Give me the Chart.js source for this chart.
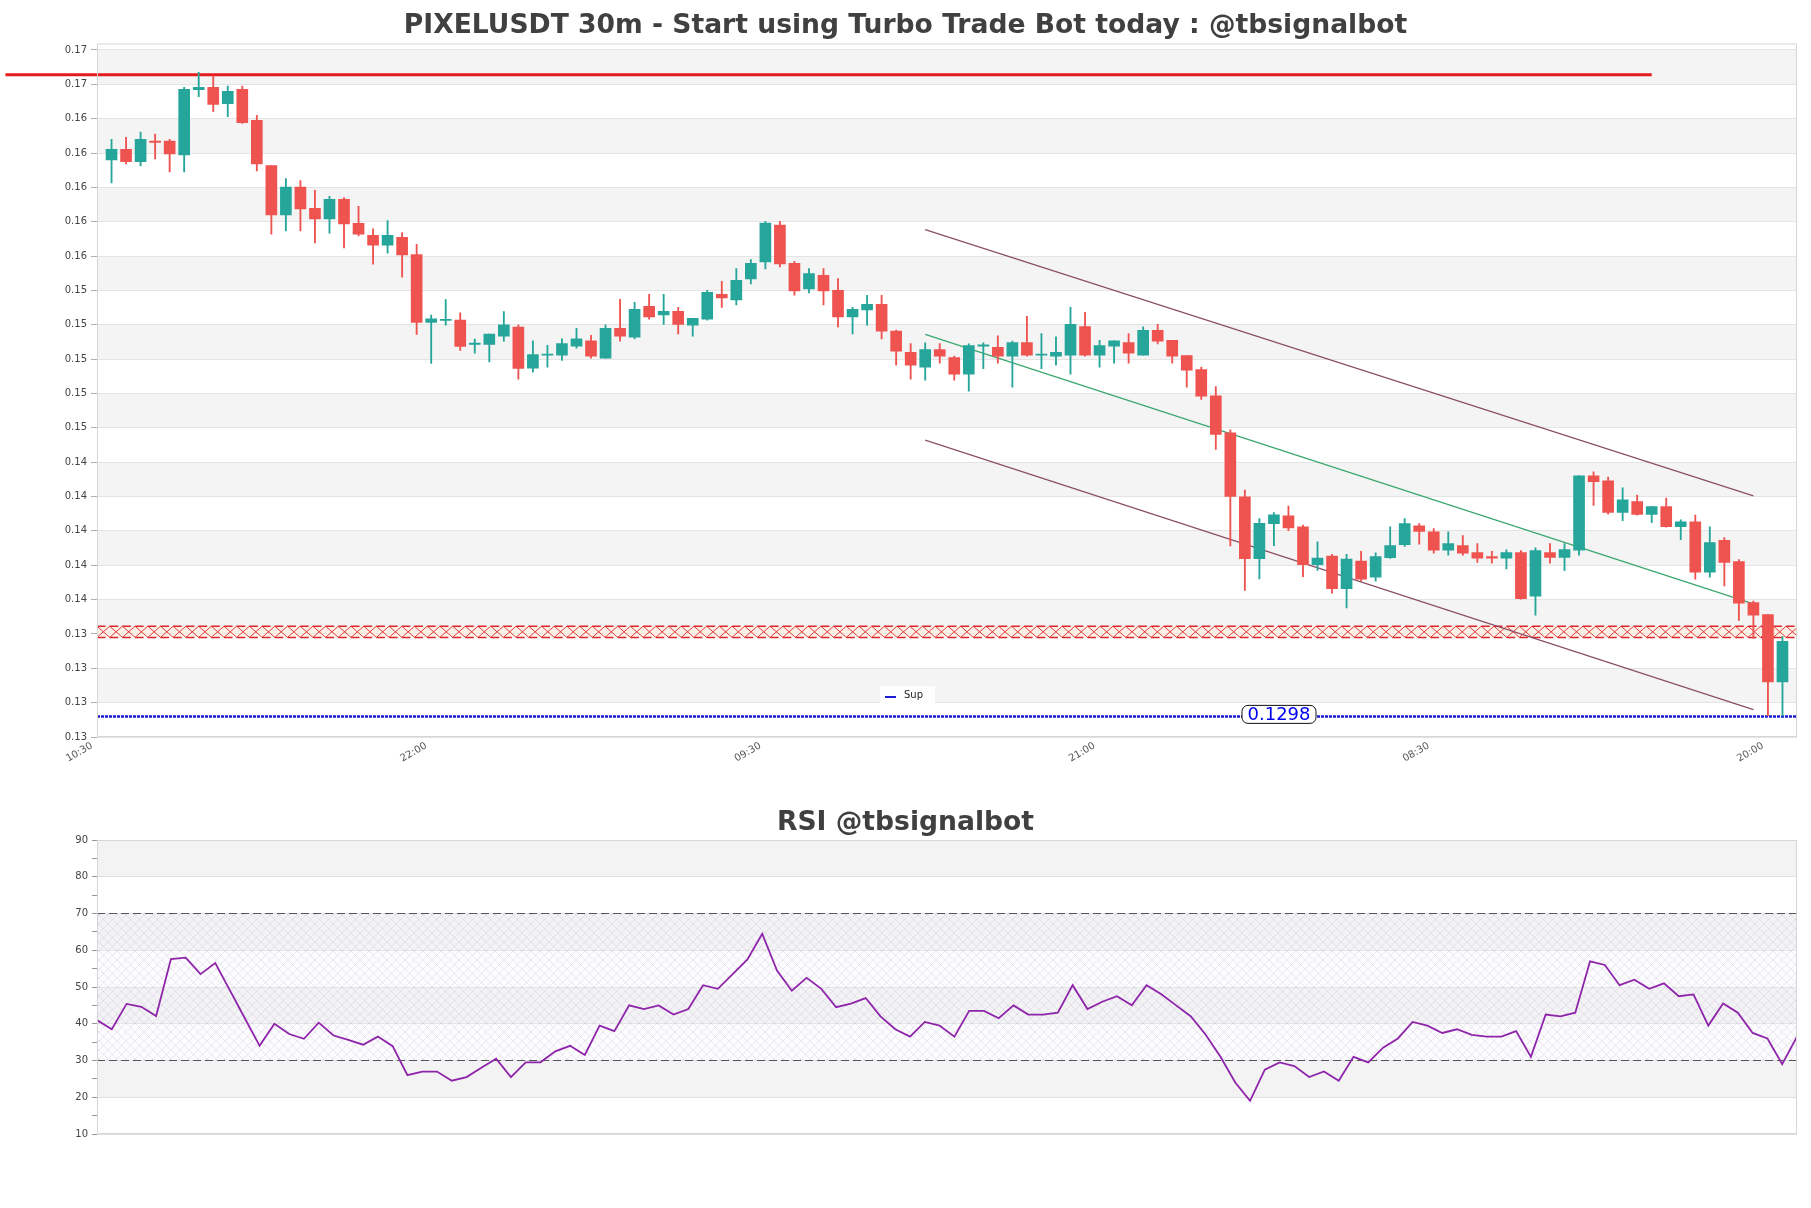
<!DOCTYPE html>
<html>
<head>
<meta charset="utf-8">
<title>PIXELUSDT 30m</title>
<script src="https://cdn.jsdelivr.net/npm/chart.js@4.4.1/dist/chart.umd.min.js"></script>
<style>
  html, body { margin: 0; padding: 0; background: #fff; }
  #wrap { position: relative; width: 1811px; height: 1208px; }
  canvas { position: absolute; left: 0; }
</style>
</head>
<body>
<div id="wrap">
  <canvas id="priceChart" width="1811" height="780" style="top:0"></canvas>
  <canvas id="rsiChart" width="1811" height="428" style="top:780px"></canvas>
</div>
<script>
// velas de 30m (indice 0 = 11:00)
let opens = [
  0.16220, 0.16281, 0.16209, 0.16329, 0.16329, 0.16249, 0.16629, 0.16643, 0.16547, 0.16631,
  0.16450, 0.16187, 0.15899, 0.16061, 0.15938, 0.15876, 0.15991, 0.15851, 0.15780, 0.15724,
  0.15769, 0.15669, 0.15274, 0.15286, 0.15288, 0.15146, 0.15146, 0.15193, 0.15247, 0.15007,
  0.15083, 0.15083, 0.15136, 0.15167, 0.15066, 0.15239, 0.15188, 0.15367, 0.15317, 0.15338,
  0.15258, 0.15293, 0.15437, 0.15404, 0.15527, 0.15626, 0.15840, 0.15618, 0.15468, 0.15548,
  0.15461, 0.15305, 0.15346, 0.15379, 0.15223, 0.15099, 0.15013, 0.15116, 0.15069, 0.14972,
  0.15135, 0.15128, 0.15077, 0.15157, 0.15083, 0.15077, 0.15083, 0.15250, 0.15083, 0.15135,
  0.15157, 0.15083, 0.15227, 0.15169, 0.15081, 0.14999, 0.14847, 0.14631, 0.14258, 0.13898,
  0.14102, 0.14147, 0.14083, 0.13863, 0.13913, 0.13723, 0.13884, 0.13790, 0.13904, 0.13980,
  0.14090, 0.14055, 0.13947, 0.13974, 0.13933, 0.13910, 0.13901, 0.13933, 0.13680, 0.13933,
  0.13906, 0.13947, 0.14381, 0.14352, 0.14168, 0.14230, 0.14156, 0.14201, 0.14084, 0.14113,
  0.13819, 0.14005, 0.13881, 0.13643, 0.13573, 0.13180
];
let highs = [
  0.16339, 0.16351, 0.16382, 0.16370, 0.16339, 0.16643, 0.16730, 0.16711, 0.16650, 0.16650,
  0.16479, 0.16187, 0.16111, 0.16100, 0.16043, 0.16008, 0.16000, 0.15950, 0.15819, 0.15866,
  0.15796, 0.15728, 0.15317, 0.15407, 0.15329, 0.15177, 0.15206, 0.15337, 0.15259, 0.15167,
  0.15140, 0.15178, 0.15239, 0.15198, 0.15260, 0.15408, 0.15391, 0.15437, 0.15437, 0.15361,
  0.15297, 0.15461, 0.15513, 0.15587, 0.15640, 0.15862, 0.15862, 0.15630, 0.15587, 0.15587,
  0.15529, 0.15361, 0.15431, 0.15431, 0.15229, 0.15151, 0.15155, 0.15151, 0.15077, 0.15149,
  0.15155, 0.15196, 0.15165, 0.15309, 0.15209, 0.15190, 0.15361, 0.15332, 0.15169, 0.15167,
  0.15209, 0.15248, 0.15262, 0.15169, 0.15081, 0.15013, 0.14900, 0.14649, 0.14297, 0.14131,
  0.14166, 0.14205, 0.14094, 0.13997, 0.13923, 0.13923, 0.13941, 0.13932, 0.14084, 0.14131,
  0.14102, 0.14073, 0.14055, 0.14032, 0.13986, 0.13941, 0.13949, 0.13945, 0.13961, 0.13986,
  0.13986, 0.14381, 0.14404, 0.14373, 0.14311, 0.14268, 0.14201, 0.14251, 0.14125, 0.14152,
  0.14084, 0.14021, 0.13893, 0.13651, 0.13573, 0.13444
];
let lows = [
  0.16086, 0.16197, 0.16185, 0.16226, 0.16150, 0.16150, 0.16588, 0.16500, 0.16471, 0.16432,
  0.16156, 0.15788, 0.15806, 0.15806, 0.15736, 0.15794, 0.15707, 0.15777, 0.15613, 0.15677,
  0.15537, 0.15204, 0.15035, 0.15257, 0.15111, 0.15094, 0.15043, 0.15164, 0.14944, 0.14984,
  0.15013, 0.15052, 0.15124, 0.15066, 0.15066, 0.15165, 0.15177, 0.15293, 0.15262, 0.15206,
  0.15194, 0.15287, 0.15361, 0.15375, 0.15498, 0.15585, 0.15597, 0.15433, 0.15445, 0.15375,
  0.15247, 0.15206, 0.15258, 0.15177, 0.15025, 0.14943, 0.14937, 0.15036, 0.14937, 0.14873,
  0.15005, 0.15036, 0.14896, 0.15077, 0.15005, 0.15025, 0.14972, 0.15077, 0.15013, 0.15036,
  0.15036, 0.15083, 0.15149, 0.15036, 0.14896, 0.14826, 0.14534, 0.13972, 0.13713, 0.13781,
  0.13974, 0.14061, 0.13793, 0.13830, 0.13697, 0.13612, 0.13769, 0.13767, 0.13899, 0.13970,
  0.13982, 0.13930, 0.13918, 0.13918, 0.13877, 0.13872, 0.13839, 0.13662, 0.13569, 0.13872,
  0.13829, 0.13918, 0.14208, 0.14158, 0.14119, 0.14152, 0.14108, 0.14081, 0.14009, 0.13779,
  0.13790, 0.13740, 0.13538, 0.13434, 0.12983, 0.12983
];
let closes = [
  0.16281, 0.16209, 0.16339, 0.16321, 0.16255, 0.16631, 0.16643, 0.16543, 0.16619, 0.16436,
  0.16197, 0.15899, 0.16061, 0.15934, 0.15876, 0.15991, 0.15847, 0.15788, 0.15724, 0.15780,
  0.15666, 0.15274, 0.15294, 0.15292, 0.15134, 0.15154, 0.15206, 0.15259, 0.15006, 0.15087,
  0.15089, 0.15151, 0.15178, 0.15077, 0.15239, 0.15194, 0.15350, 0.15305, 0.15338, 0.15262,
  0.15297, 0.15449, 0.15416, 0.15519, 0.15618, 0.15852, 0.15614, 0.15457, 0.15558, 0.15457,
  0.15305, 0.15350, 0.15379, 0.15223, 0.15107, 0.15025, 0.15116, 0.15077, 0.14972, 0.15139,
  0.15143, 0.15077, 0.15157, 0.15083, 0.15089, 0.15099, 0.15262, 0.15083, 0.15139, 0.15167,
  0.15095, 0.15227, 0.15165, 0.15077, 0.14995, 0.14844, 0.14622, 0.14260, 0.13898, 0.14104,
  0.14153, 0.14077, 0.13863, 0.13902, 0.13723, 0.13896, 0.13779, 0.13910, 0.13974, 0.14102,
  0.14057, 0.13947, 0.13986, 0.13930, 0.13901, 0.13901, 0.13933, 0.13666, 0.13945, 0.13906,
  0.13951, 0.14381, 0.14346, 0.14168, 0.14241, 0.14156, 0.14201, 0.14084, 0.14113, 0.13819,
  0.13992, 0.13877, 0.13639, 0.13569, 0.13180, 0.13417
];

// RSI (14) del panel de abajo
let rsiValues = [
  41.0, 38.5, 45.4, 44.6, 42.1, 57.6, 58.0, 53.5, 56.5, 49.0,
  41.5, 34.0, 40.0, 37.2, 35.9, 40.3, 36.8, 35.6, 34.3, 36.5,
  33.9, 26.0, 27.0, 27.0, 24.5, 25.5, 28.0, 30.5, 25.5, 29.5,
  29.5, 32.5, 34.0, 31.5, 39.5, 38.0, 45.0, 44.0, 45.0, 42.5,
  44.0, 50.5, 49.5, 53.5, 57.5, 64.5, 54.5, 49.0, 52.5, 49.5,
  44.5, 45.5, 47.0, 42.0, 38.5, 36.5, 40.5, 39.5, 36.5, 43.5,
  43.5, 41.5, 45.0, 42.5, 42.5, 43.0, 50.5, 44.0, 46.0, 47.5,
  45.0, 50.5, 48.0, 45.0, 42.0, 37.0, 31.0, 24.0, 19.0, 27.5,
  29.5, 28.5, 25.5, 27.0, 24.5, 31.0, 29.5, 33.5, 36.0, 40.5,
  39.5, 37.5, 38.5, 37.0, 36.5, 36.5, 38.0, 31.0, 42.5, 42.0,
  43.0, 57.0, 56.0, 50.5, 52.0, 49.5, 51.0, 47.5, 48.0, 39.5,
  45.5, 43.0, 37.5, 36.0, 29.0, 36.5
];

// eje de tiempo
let timeTickIdx = [-1, 22, 45, 68, 91, 114];
let timeLabels = ['10:30', '22:00', '09:30', '21:00', '08:30', '20:00'];

// niveles y canal
let resistanceLevel = 0.16715;
let supLevel = 0.1298;
let zoneLow = 0.13440;
let zoneHigh = 0.13505;
let channelIdx = [56, 113];
let channelUpper = [0.15814, 0.14264];
let channelMid = [0.15204, 0.13635];
let channelLower = [0.14588, 0.13019];
let rsiLevels = [70, 30];

// ticks del eje de precio (paso 0.002)
let priceTicks = [];
for (let k = 0; k <= 20; k++) priceTicks.push(+(0.1286 + k * 0.002).toFixed(4));
let rsiTicks = [90, 80, 70, 60, 50, 40, 30, 20, 10];

const UP = '#26a69a', DOWN = '#ef5350';
Chart.defaults.font.family = "'DejaVu Sans', sans-serif";
Chart.defaults.animation = false;

// eje vacio a la derecha, solo para dejar el margen y centrar el titulo
const spacerAxis = {
  position: 'right',
  display: true,
  grid: { display: false, drawTicks: false },
  border: { display: false },
  ticks: { display: false },
  afterFit: s => { s.width = 14; }
};

// bandas grises alternadas entre ticks + marco
const bandsPlugin = {
  id: 'bands',
  beforeDraw(chart, args, opts) {
    let { ctx, chartArea: a, scales: { y } } = chart;
    let vals = opts.values.slice().sort((p, q) => q - p);
    ctx.save();
    ctx.fillStyle = opts.color;
    for (let i = 0; i + 1 < vals.length; i += 2) {
      let y0 = y.getPixelForValue(vals[i]), y1 = y.getPixelForValue(vals[i + 1]);
      ctx.fillRect(a.left, y0, a.right - a.left, y1 - y0);
    }
    ctx.restore();
  },
  afterDraw(chart) {
    let { ctx, chartArea: a } = chart;
    ctx.save();
    ctx.strokeStyle = '#d6d6d6';
    ctx.lineWidth = 1;
    ctx.strokeRect(a.left + 0.5, a.top + 0.5, a.right - a.left - 1, a.bottom - a.top - 1);
    ctx.restore();
  }
};

// zona roja rayada
const zonePlugin = {
  id: 'zone',
  beforeDatasetsDraw(chart, args, opts) {
    let { ctx, chartArea: a, scales: { y } } = chart;
    let yt = y.getPixelForValue(opts.high), yb = y.getPixelForValue(opts.low);
    let w = 12.7;
    ctx.save();
    ctx.beginPath();
    ctx.rect(a.left, a.top, a.right - a.left, a.bottom - a.top);
    ctx.clip();
    ctx.fillStyle = 'rgba(255,235,215,0.5)';
    ctx.fillRect(a.left, yt, a.right - a.left, yb - yt);
    ctx.strokeStyle = opts.color;
    ctx.lineWidth = 0.9;
    ctx.beginPath();
    for (let x = a.left; x < a.right; x += w) {
      ctx.moveTo(x, yt); ctx.lineTo(x + w, yb);
      ctx.moveTo(x + w, yt); ctx.lineTo(x, yb);
    }
    ctx.stroke();
    ctx.lineWidth = 1.5;
    ctx.setLineDash([8.5, 4.2]);
    ctx.beginPath();
    ctx.moveTo(a.left, yt); ctx.lineTo(a.right, yt);
    ctx.moveTo(a.left, yb); ctx.lineTo(a.right, yb);
    ctx.stroke();
    ctx.restore();
  }
};

// leyenda "Sup" y etiqueta del precio
const supLabelPlugin = {
  id: 'supLabel',
  afterDatasetsDraw(chart, args, opts) {
    let { ctx, chartArea: a, scales: { x, y } } = chart;
    ctx.save();
    let lx = 880, ly = a.bottom - 51;
    ctx.fillStyle = 'rgba(255,255,255,0.9)';
    ctx.fillRect(lx, ly, 55, 17);
    ctx.strokeStyle = opts.color;
    ctx.lineWidth = 2;
    ctx.beginPath(); ctx.moveTo(lx + 5, ly + 11); ctx.lineTo(lx + 16, ly + 11); ctx.stroke();
    ctx.fillStyle = '#222';
    ctx.font = "10px 'DejaVu Sans'";
    ctx.textBaseline = 'middle';
    ctx.fillText('Sup', lx + 24, ly + 9);
    // etiqueta con el valor
    let cx = x.getPixelForValue(opts.at), cy = y.getPixelForValue(opts.value) - 2;
    let bw = 74, bh = 18;
    ctx.beginPath();
    ctx.roundRect(cx - bw / 2, cy - bh / 2, bw, bh, 6);
    ctx.fillStyle = '#fff';
    ctx.fill();
    ctx.strokeStyle = '#111';
    ctx.lineWidth = 1;
    ctx.stroke();
    ctx.fillStyle = '#0000ee';
    ctx.font = "18px 'DejaVu Sans'";
    ctx.textAlign = 'center';
    ctx.fillText(opts.value.toFixed(4), cx, cy + 1);
    ctx.restore();
  }
};

// rayado violeta entre 30 y 70 del RSI
const rsiZonePlugin = {
  id: 'rsiZone',
  beforeDatasetsDraw(chart, args, opts) {
    let { ctx, chartArea: a, scales: { y } } = chart;
    let tile = document.createElement('canvas');
    tile.width = tile.height = 9;
    let g = tile.getContext('2d');
    g.strokeStyle = 'rgba(175,160,195,0.32)';
    g.lineWidth = 0.7;
    g.beginPath();
    g.moveTo(0, 0); g.lineTo(9, 9);
    g.moveTo(9, 0); g.lineTo(0, 9);
    g.stroke();
    let yt = y.getPixelForValue(opts.high), yb = y.getPixelForValue(opts.low);
    ctx.save();
    ctx.fillStyle = 'rgba(245,238,248,0.25)';
    ctx.fillRect(a.left, yt, a.right - a.left, yb - yt);
    ctx.fillStyle = ctx.createPattern(tile, 'repeat');
    ctx.fillRect(a.left, yt, a.right - a.left, yb - yt);
    ctx.restore();
  }
};

function buildCandles() {
  let bodies = [], wicks = [], colors = [];
  for (let i = 0; i < opens.length; i++) {
    bodies.push({ x: i, y: [opens[i], closes[i]] });
    wicks.push({ x: i, y: [lows[i], highs[i]] });
    colors.push(closes[i] >= opens[i] ? UP : DOWN);
  }
  return { bodies, wicks, colors };
}

function lineSet(label, xs, ys, color, width, extra) {
  return Object.assign({
    type: 'line',
    label: label,
    data: xs.map((v, i) => ({ x: v, y: ys[i] })),
    borderColor: color,
    borderWidth: width,
    pointRadius: 0,
    fill: false,
    tension: 0
  }, extra || {});
}

function drawPriceChart() {
  let c = buildCandles();
  let ctx = document.getElementById('priceChart').getContext('2d');
  new Chart(ctx, {
    type: 'bar',
    data: {
      datasets: [
        { label: 'body', data: c.bodies, backgroundColor: c.colors, barThickness: 11, grouped: false, minBarLength: 1 },
        { label: 'wick', data: c.wicks, backgroundColor: c.colors, barThickness: 1.2, grouped: false },
        lineSet('Upper', channelIdx, channelUpper, '#8c4f63', 1.2),
        lineSet('Mid', channelIdx, channelMid, '#3aa76d', 1.2),
        lineSet('Lower', channelIdx, channelLower, '#8c4f63', 1.2),
        lineSet('Sup', [-1, 116], [supLevel, supLevel], '#1d1dcf', 2.5, { borderDash: [3, 1] }),
        lineSet('Res', [-7.3, 106], [resistanceLevel, resistanceLevel], '#e41a1c', 3, { clip: false })
      ]
    },
    options: {
      responsive: false,
      events: [],
      layout: { padding: 0 },
      plugins: {
        legend: { display: false },
        tooltip: { enabled: false },
        title: {
          display: true,
          text: 'PIXELUSDT 30m - Start using Turbo Trade Bot today : @tbsignalbot',
          color: '#404040',
          font: { size: 26.6, weight: 'bold' },
          padding: { top: 10, bottom: 1.5 }
        },
        bands: { color: '#f4f4f4', values: priceTicks },
        zone: { low: zoneLow, high: zoneHigh, color: '#e0252a' },
        supLabel: { value: supLevel, at: 80.35, color: '#1d1dcf' }
      },
      scales: {
        x: {
          type: 'linear',
          min: -1,
          max: 116,
          offset: false,
          grid: { display: false, drawTicks: false, tickLength: 0 },
          border: { display: false },
          afterBuildTicks: s => { s.ticks = timeTickIdx.map(v => ({ value: v })); },
          afterFit: s => { s.height = 43; },
          ticks: {
            autoSkip: false,
            minRotation: 30,
            maxRotation: 30,
            labelOffset: -5,
            padding: 3,
            color: '#555',
            font: { size: 10 },
            callback: v => timeLabels[timeTickIdx.indexOf(v)]
          }
        },
        y: {
          min: 0.1286,
          max: 0.16898,
          border: { display: false },
          grid: { color: '#e4e4e4', tickColor: '#b0b0b0', tickLength: 6 },
          afterBuildTicks: s => { s.ticks = priceTicks.map(v => ({ value: v })); },
          afterFit: s => { s.width = 97; },
          ticks: {
            color: '#444',
            font: { size: 10 },
            padding: 4,
            callback: v => v.toFixed(2)
          }
        },
        yRight: spacerAxis
      }
    },
    plugins: [bandsPlugin, zonePlugin, supLabelPlugin]
  });
}

function drawRsiChart() {
  let ctx = document.getElementById('rsiChart').getContext('2d');
  let idx = rsiValues.map((v, i) => i);
  new Chart(ctx, {
    type: 'line',
    data: {
      datasets: [
        lineSet('RSI', idx, rsiValues, '#8e24aa', 1.8),
        lineSet('70', [0, rsiValues.length - 1], [rsiLevels[0], rsiLevels[0]], '#555', 1.2, { borderDash: [8, 4] }),
        lineSet('30', [0, rsiValues.length - 1], [rsiLevels[1], rsiLevels[1]], '#555', 1.2, { borderDash: [8, 4] })
      ]
    },
    options: {
      responsive: false,
      events: [],
      layout: { padding: { left: 0, right: 0, top: 0, bottom: 74 } },
      plugins: {
        legend: { display: false },
        tooltip: { enabled: false },
        title: {
          display: true,
          text: 'RSI @tbsignalbot',
          color: '#404040',
          font: { size: 26.6, weight: 'bold' },
          padding: { top: 27.5, bottom: 0.6 }
        },
        bands: { color: '#f3f3f3', values: rsiTicks },
        rsiZone: { low: rsiLevels[1], high: rsiLevels[0] }
      },
      scales: {
        x: { type: 'linear', min: 0, max: rsiValues.length - 1, display: false },
        y: {
          min: 10,
          max: 90,
          border: { display: false },
          afterFit: s => { s.width = 97; },
          grid: {
            color: c => (c.tick && c.tick.value % 10 === 0) ? '#e0e0e0' : 'rgba(0,0,0,0)',
            tickColor: '#999',
            tickLength: 5
          },
          ticks: {
            stepSize: 5,
            color: '#444',
            font: { size: 10 },
            padding: 4,
            callback: v => (v % 10 === 0 ? v : '')
          }
        },
        yRight: spacerAxis
      }
    },
    plugins: [bandsPlugin, rsiZonePlugin]
  });
}

drawPriceChart();
drawRsiChart();
</script>
</body>
</html>
